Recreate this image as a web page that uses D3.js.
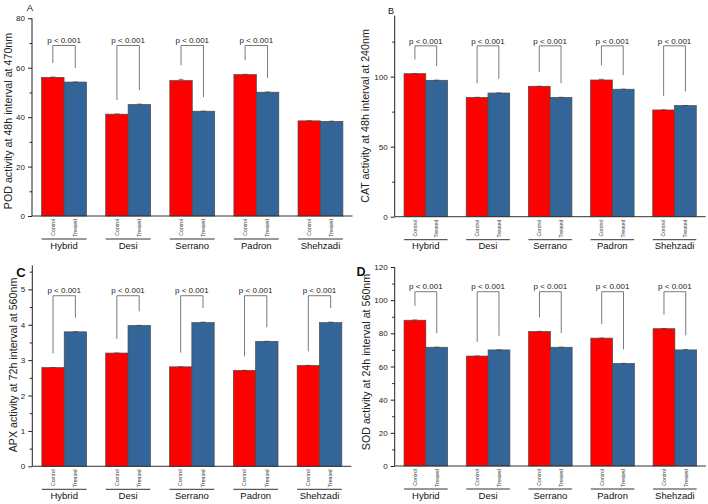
<!DOCTYPE html>
<html>
<head>
<meta charset="utf-8">
<script src="https://cdn.jsdelivr.net/npm/d3@7"></script>
<style>
  html, body { margin: 0; padding: 0; background: #fff; }
  svg { display: block; font-family: "Liberation Sans", Arial, sans-serif; }
</style>
</head>
<body>
<svg id="chart" width="708" height="504"></svg>
<script>
// ---------- data ----------
const groups = ["Hybrid", "Desi", "Serrano", "Padron", "Shehzadi"];
const treatments = ["Control", "Treated"];
const pLabel = "p < 0.001";

const podControl = [56.1, 41.2, 54.8, 57.2, 38.5];
const podTreated = [54.2, 45.1, 42.4, 50.1, 38.3];
const podControlErr = [0.15, 0.1, 0.5, 0.15, 0.05];
const podTreatedErr = [0.05, 0.2, 0.05, 0.1, 0.1];
const podSig = [true, true, true, true, false];
const podTicks = [0, 20, 40, 60, 80];
const podMinor = [10, 30, 50, 70];

const catControl = [102.1, 85.2, 93.1, 97.6, 76.2];
const catTreated = [97.4, 88.3, 85.2, 91.0, 79.3];
const catControlErr = [0.1, 0.1, 0.1, 0.5, 0.1];
const catTreatedErr = [0.1, 0.1, 0.1, 0.1, 0.1];
const catSig = [true, true, true, true, true];
const catTicks = [0, 50, 100];
const catMinor = [25, 75, 125];

const apxControl = [2.79, 3.20, 2.81, 2.71, 2.85];
const apxTreated = [3.80, 3.98, 4.06, 3.53, 4.06];
const apxControlErr = [0.003, 0.003, 0.003, 0.003, 0.003];
const apxTreatedErr = [0.003, 0.003, 0.015, 0.003, 0.015];
const apxSig = [true, true, true, true, true];
const apxTicks = [0, 1, 2, 3, 4, 5];
const apxMinor = [0.5, 1.5, 2.5, 3.5, 4.5, 5.5];

const sodControl = [87.9, 66.3, 81.1, 77.1, 82.8];
const sodTreated = [71.6, 70.0, 71.6, 61.8, 70.0];
const sodControlErr = [0.2, 0.1, 0.1, 0.1, 0.1];
const sodTreatedErr = [0.1, 0.1, 0.1, 0.1, 0.3];
const sodSig = [true, true, true, true, true];
const sodTicks = [0, 20, 40, 60, 80, 100, 120];
const sodMinor = [10, 30, 50, 70, 90, 110];

// ---------- panels ----------
const panels = [
  { label: "A", bold: false, lx: 30, ly: 11, lsize: 9.5,
    title: "POD activity at 48h interval at 470nm",
    control: podControl, treated: podTreated, cErr: podControlErr, tErr: podTreatedErr,
    sig: podSig, ticks: podTicks, minor: podMinor, yMax: 80, bracketAt: 69,
    x0: 32, x1: 352.5, yTop: 18.3, yBot: 216, titleX: 11.5, titleY: 121 },
  { label: "B", bold: false, lx: 391, ly: 14, lsize: 9,
    title: "CAT activity at 48h interval at 240nm",
    control: catControl, treated: catTreated, cErr: catControlErr, tErr: catTreatedErr,
    sig: catSig, ticks: catTicks, minor: catMinor, yMax: 143.5, bracketAt: 122,
    x0: 394.7, x1: 705.6, yTop: 15.7, yBot: 216.7, titleX: 369, titleY: 116 },
  { label: "C", bold: true, lx: 21, ly: 277, lsize: 13,
    title: "APX activity at 72h interval at 560nm",
    control: apxControl, treated: apxTreated, cErr: apxControlErr, tErr: apxTreatedErr,
    sig: apxSig, ticks: apxTicks, minor: apxMinor, yMax: 5.68, bracketAt: 4.82,
    x0: 32.3, x1: 351.4, yTop: 265.3, yBot: 466.3, titleX: 16.5, titleY: 365 },
  { label: "D", bold: true, lx: 361, ly: 276, lsize: 12.5,
    title: "SOD activity at 24h interval at 560nm",
    control: sodControl, treated: sodTreated, cErr: sodControlErr, tErr: sodTreatedErr,
    sig: sodSig, ticks: sodTicks, minor: sodMinor, yMax: 120, bracketAt: 105.1,
    x0: 394.7, x1: 706, yTop: 267, yBot: 466, titleX: 369.5, titleY: 362 }
];

const colors = { Control: "#ff0000", Treated: "#346599" };
const svg = d3.select("#chart");

panels.forEach(p => {
  const g = svg.append("g");
  const y = d3.scaleLinear().domain([0, p.yMax]).range([p.yBot, p.yTop]);
  const x = d3.scaleBand().domain(groups).range([p.x0, p.x1])
    .paddingInner(0.3).paddingOuter(0.15);
  const xi = d3.scaleBand().domain(treatments).range([0, x.bandwidth()]);

  // y axis (major)
  const yAxis = d3.axisLeft(y).tickValues(p.ticks).tickSize(4).tickPadding(3)
    .tickFormat(d3.format("d"));
  const ya = g.append("g").attr("transform", `translate(${p.x0},0)`).call(yAxis);
  ya.select(".domain").attr("stroke", "#222").attr("stroke-width", 1)
    .attr("d", `M0,${p.yTop}V${p.yBot}`);
  ya.selectAll(".tick line").attr("stroke", "#222");
  ya.selectAll(".tick text").attr("font-size", 8).attr("fill", "#222")
    .attr("font-family", "Liberation Sans, Arial, sans-serif");
  // minor ticks
  const yMinor = d3.axisLeft(y).tickValues(p.minor.filter(v => v <= p.yMax))
    .tickSize(2.5).tickFormat("");
  const ym = g.append("g").attr("transform", `translate(${p.x0},0)`).call(yMinor);
  ym.select(".domain").remove();
  ym.selectAll(".tick line").attr("stroke", "#222");

  // y title
  g.append("text")
    .attr("transform", `translate(${p.titleX},${p.titleY}) rotate(-90)`)
    .attr("text-anchor", "middle").attr("font-size", 10.7).attr("fill", "#222")
    .text(p.title);

  // panel label
  g.append("text").attr("x", p.lx).attr("y", p.ly)
    .attr("text-anchor", "middle").attr("font-size", p.lsize)
    .attr("font-weight", p.bold ? "bold" : "normal").attr("fill", "#111")
    .text(p.label);

  // bars
  const rows = [];
  groups.forEach((grp, i) => {
    rows.push({ grp, t: "Control", v: p.control[i], e: p.cErr[i] });
    rows.push({ grp, t: "Treated", v: p.treated[i], e: p.tErr[i] });
  });
  g.selectAll("rect.bar").data(rows).join("rect").attr("class", "bar")
    .attr("x", d => x(d.grp) + xi(d.t))
    .attr("width", xi.bandwidth())
    .attr("y", d => y(d.v))
    .attr("height", d => y(0) - y(d.v))
    .attr("fill", d => colors[d.t])
    .attr("stroke", "#4a4a4a").attr("stroke-width", 0.7);

  // error bars
  rows.forEach(d => {
    const cx = x(d.grp) + xi(d.t) + xi.bandwidth() / 2;
    const yt = y(d.v + d.e);
    g.append("line").attr("x1", cx).attr("x2", cx).attr("y1", yt).attr("y2", y(d.v))
      .attr("stroke", "#333").attr("stroke-width", 0.6);
    g.append("line").attr("x1", cx - 2.5).attr("x2", cx + 2.5).attr("y1", yt).attr("y2", yt)
      .attr("stroke", "#333").attr("stroke-width", 0.6);
  });

  // x axis baseline
  g.append("line").attr("x1", p.x0).attr("x2", p.x1)
    .attr("y1", p.yBot).attr("y2", p.yBot)
    .attr("stroke", "#333").attr("stroke-width", 1);

  // treatment labels (rotated)
  rows.forEach(d => {
    const cx = x(d.grp) + xi(d.t) + xi.bandwidth() / 2;
    g.append("text")
      .attr("transform", `translate(${cx + 1.8},${p.yBot + 3}) rotate(-90)`)
      .attr("text-anchor", "end").attr("font-size", 5.2).attr("fill", "#333")
      .text(d.t);
  });

  // group underline + names
  groups.forEach(grp => {
    g.append("line").attr("x1", x(grp)).attr("x2", x(grp) + x.bandwidth())
      .attr("y1", p.yBot + 23).attr("y2", p.yBot + 23)
      .attr("stroke", "#333").attr("stroke-width", 1);
    g.append("text").attr("x", x(grp) + x.bandwidth() / 2).attr("y", p.yBot + 32.5)
      .attr("text-anchor", "middle").attr("font-size", 9.5).attr("fill", "#111")
      .text(grp);
  });

  // significance brackets
  groups.forEach((grp, i) => {
    if (!p.sig[i]) return;
    const cxC = x(grp) + xi("Control") + xi.bandwidth() / 2;
    const cxT = x(grp) + xi("Treated") + xi.bandwidth() / 2;
    const yl = y(p.bracketAt);
    const yC = y(p.control[i] + p.cErr[i]) - 14;
    const yT = y(p.treated[i] + p.tErr[i]) - 14;
    g.append("path")
      .attr("d", `M${cxC},${yC}V${yl}H${cxT}V${yT}`)
      .attr("fill", "none").attr("stroke", "#7a7a7a").attr("stroke-width", 1);
    g.append("text").attr("x", (cxC + cxT) / 2).attr("y", yl - 2.3)
      .attr("text-anchor", "middle").attr("font-size", 8).attr("fill", "#222")
      .text(pLabel);
  });
});
</script>
</body>
</html>
